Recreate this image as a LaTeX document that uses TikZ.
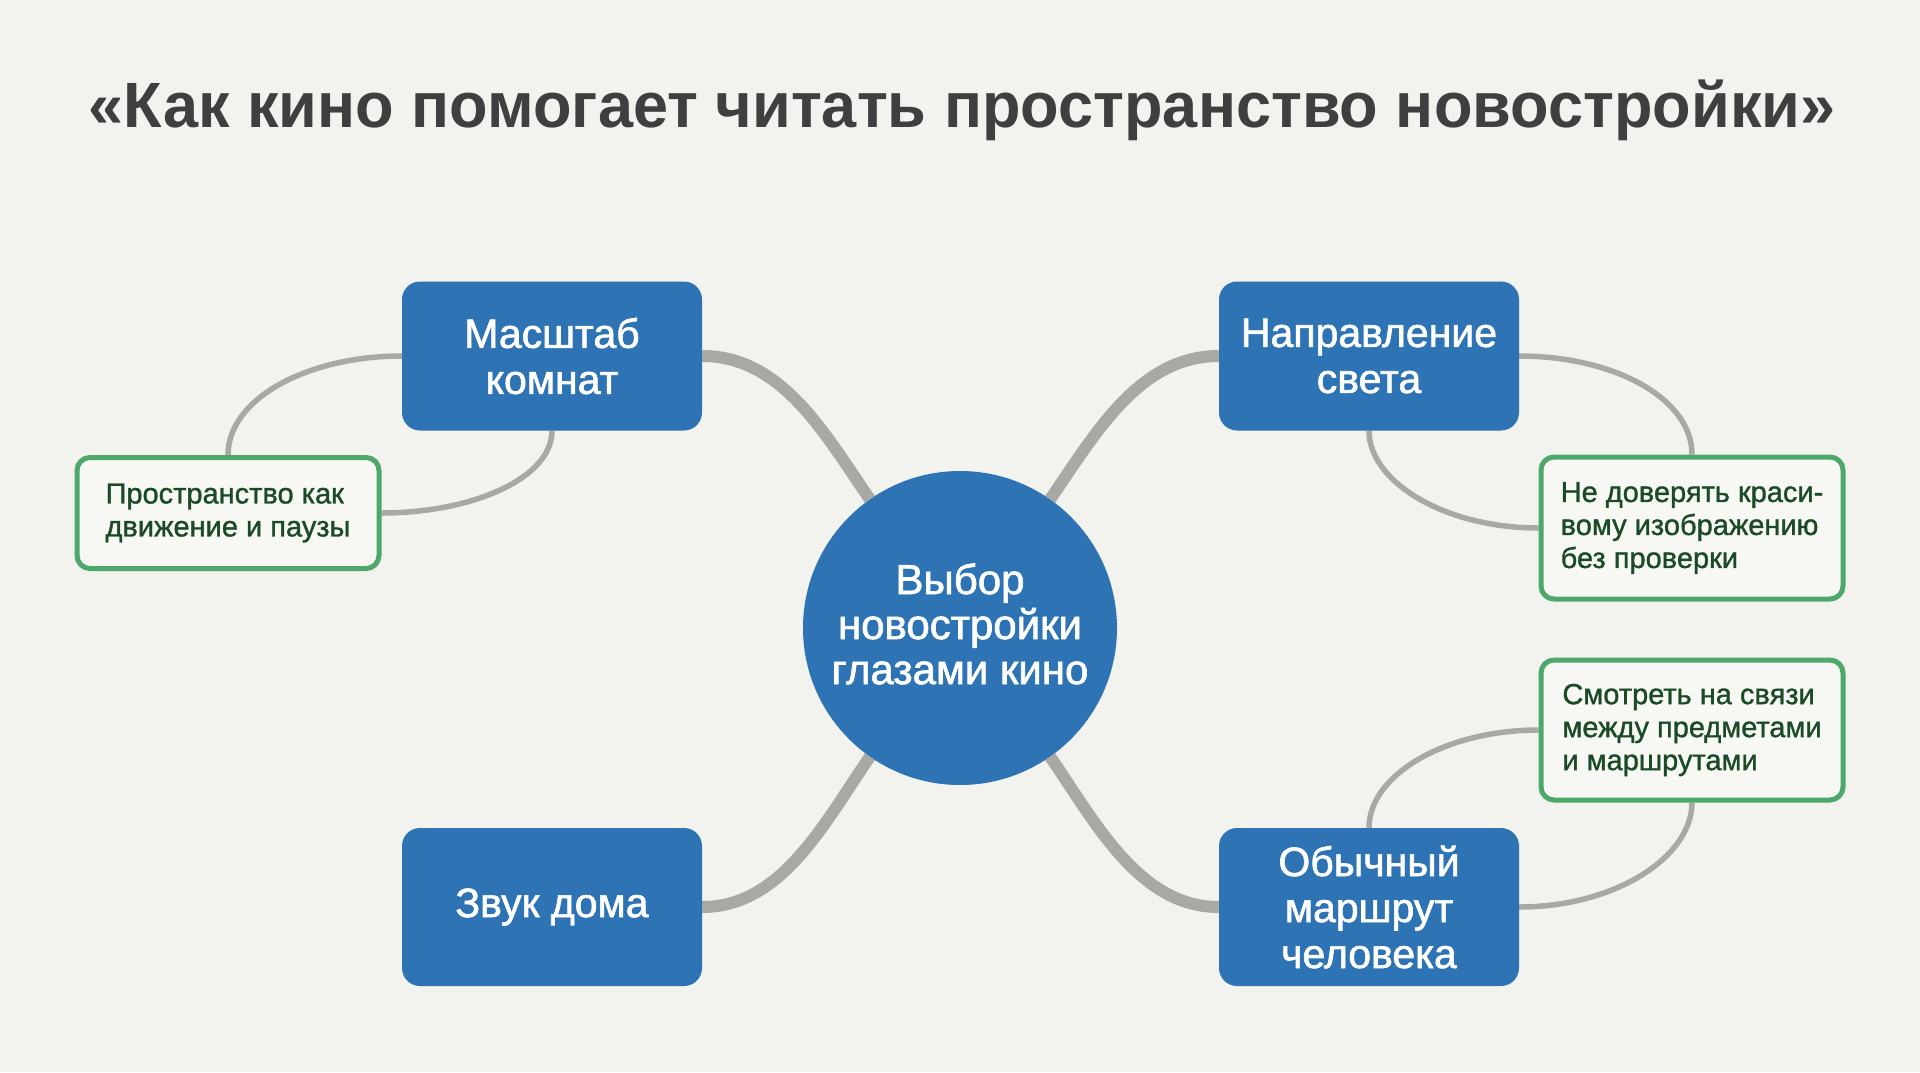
\documentclass[tikz,border=0pt]{standalone}
\usepackage{fontspec}
\setmainfont{Liberation Sans}
\newfontfamily\headfont[FakeStretch=0.985]{Liberation Sans}
\newfontfamily\boxfont[FakeBold=1.5]{Liberation Sans}
\newfontfamily\notefont[FakeBold=1.1]{Liberation Sans}
\usetikzlibrary{backgrounds}

\definecolor{paper}{HTML}{F2F2EE}
\definecolor{boxblue}{HTML}{2E73B4}
\definecolor{notegreen}{HTML}{4DA86A}
\definecolor{notetext}{HTML}{1B4A27}
\definecolor{notefill}{HTML}{F7F7F3}
\definecolor{linkgray}{HTML}{A8A8A4}
\definecolor{headgray}{HTML}{3F3F3F}

\tikzset{
  topic/.style={rectangle, rounded corners=18pt, fill=boxblue, text=white,
    minimum width=300pt, minimum height=149pt, inner sep=0pt, align=center,
    font=\boxfont\fontsize{41}{46}\selectfont},
  note/.style={rectangle, rounded corners=13pt, draw=notegreen, line width=5pt,
    fill=notefill, text=notetext, minimum width=302pt, inner sep=0pt,
    align=left, font=\notefont\fontsize{29}{33}\selectfont},
  trunk/.style={draw=linkgray, line width=12pt},
  twig/.style={draw=linkgray, line width=5.5pt}
}

\begin{document}
\begin{tikzpicture}[x=1pt,y=-1pt]
\useasboundingbox (0,0) rectangle (1920,1072);

\node[anchor=base, text=headgray, font=\headfont\fontsize{64}{70}\selectfont\bfseries] (head) at (962,127)
  {«Как кино помогает читать пространство новостройки»};

% centre
\node[circle, fill=boxblue, text=white, minimum size=314pt, inner sep=0pt, align=center,
      font=\boxfont\fontsize{42}{45}\selectfont] (core) at (960,628)
  {Выбор\\новостройки\\глазами кино\vphantom{p}};

% four topics
\node[topic] (mas) at (552,356) {Масштаб\\комнат};
\node[topic] (nap) at (1369,356) {Направление\\света};
\node[topic, minimum height=158pt] (zv) at (552,907) {Звук дома};
\node[topic, minimum height=158pt] (ob) at (1369,907) {Обычный\\маршрут\\человека};

% notes
\node[note, minimum height=111pt] (n1) at (228,513) {Пространство как\\движение и паузы};
\node[note, minimum height=142pt] (n2) at (1692,528) {Не доверять краси-\\вому изображению\\без проверки};
\node[note, minimum height=140pt] (n3) at (1692,730) {Смотреть на связи\\между предметами\\и маршрутами};

\begin{scope}[on background layer]
  \fill[paper] (0,0) rectangle (1920,1072);

  \draw[trunk] (mas.east) .. controls +(80,0) and +(-45,-65) .. (core.125);
  \draw[trunk] (nap.west) .. controls +(-80,0) and +(45,-65) .. (core.55);
  \draw[trunk] (zv.east) .. controls +(80,0) and +(-45,65) .. (core.235);
  \draw[trunk] (ob.west) .. controls +(-80,0) and +(45,65) .. (core.305);

  \draw[twig] (mas.west) .. controls +(-95,0) and +(0,-56) .. (n1.north);
  \draw[twig] (mas.south) .. controls +(0,48) and +(90,0) .. (n1.east);
  \draw[twig] (nap.east) .. controls +(95,0) and +(0,-56) .. (n2.north);
  \draw[twig] (nap.south) .. controls +(0,51) and +(-94,0) .. (n2.west);
  \draw[twig] (ob.north) .. controls +(0,-53) and +(-93,0) .. (n3.west);
  \draw[twig] (n3.south) .. controls +(0,55) and +(95,0) .. (ob.east);
\end{scope}
\end{tikzpicture}
\end{document}
